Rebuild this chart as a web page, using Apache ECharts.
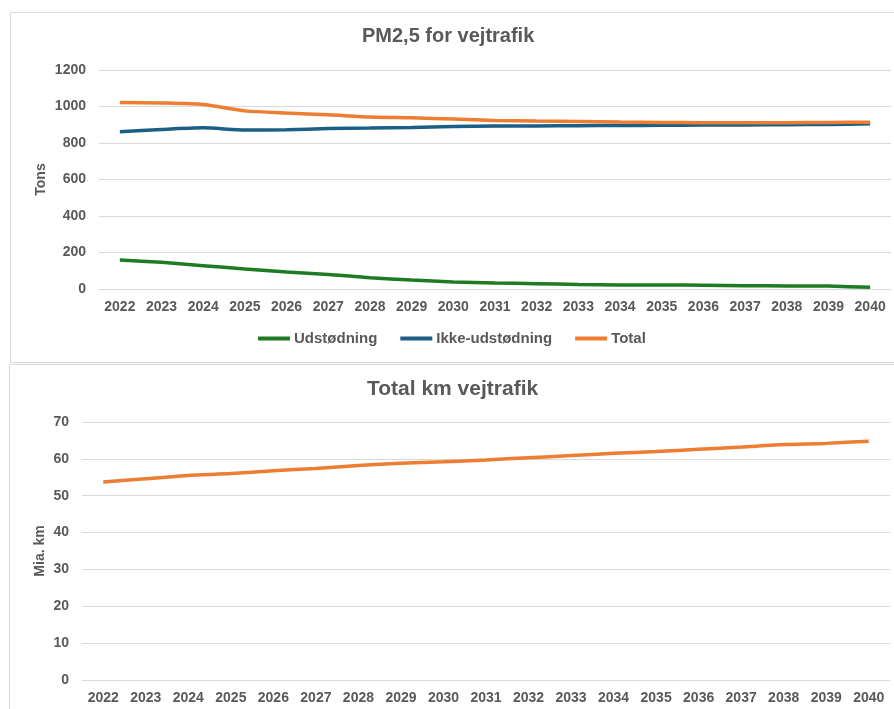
<!DOCTYPE html>
<html>
<head>
<meta charset="utf-8">
<script src="https://cdn.jsdelivr.net/npm/echarts@6/dist/echarts.min.js"></script>
<style>
  html, body { margin: 0; padding: 0; background: #fff; overflow: hidden; }
  #chart { width: 894px; height: 709px; }
</style>
</head>
<body>
<div id="chart"></div>
<script>
const years = ['2022', '2023', '2024', '2025', '2026', '2027', '2028', '2029', '2030', '2031', '2032', '2033', '2034', '2035', '2036', '2037', '2038', '2039', '2040']
// PM2,5 (tons)
const udstodning = [159, 146, 128, 110, 93, 80, 62, 49, 38, 33, 29, 25, 22, 22, 21, 18, 17, 16, 9]
const ikkeUdstodning = [861, 874, 883, 871, 872, 880, 882, 885, 890, 893, 893, 895, 896, 897, 898, 899, 900, 902, 905]
const total = [1022, 1019, 1011, 976, 964, 955, 942, 938, 931, 923, 920, 918, 915, 913, 911, 911, 911, 913, 914]
// total km (mia.)
const totalKm = [53.7, 54.6, 55.5, 56.0, 56.8, 57.4, 58.2, 58.8, 59.2, 59.7, 60.3, 60.9, 61.5, 62.0, 62.6, 63.2, 63.9, 64.2, 64.8]

const textColor = '#595959'
const gridColor = '#D9D9D9'
const font = 'Arial, "Liberation Sans", sans-serif'

const chart = echarts.init(document.getElementById('chart'))

const xAxisBase = {
  type: 'category',
  data: years,
  boundaryGap: true,
  axisLine: { lineStyle: { color: gridColor, width: 1 } },
  axisTick: { show: false },
  axisLabel: { color: textColor, fontSize: 14, fontWeight: 'bold', fontFamily: font, margin: 11, interval: 0 }
}
const yAxisBase = {
  type: 'value',
  axisLine: { show: false },
  axisTick: { show: false },
  splitLine: { lineStyle: { color: gridColor, width: 1 } },
  axisLabel: { color: textColor, fontSize: 14, fontWeight: 'bold', fontFamily: font, margin: 13, formatter: v => String(v) },
  nameLocation: 'middle',
  nameRotate: 90,
  nameMoveOverlap: false,
  nameTextStyle: { color: textColor, fontSize: 14, fontWeight: 'bold', fontFamily: font }
}

const option = {
  animation: false,
  graphic: [
    { type: 'rect', shape: { x: 10.5, y: 12.5, width: 900, height: 350 }, style: { fill: 'none', stroke: gridColor, lineWidth: 1 }, z: -1 },
    { type: 'rect', shape: { x: 9.5, y: 364.5, width: 900, height: 400 }, style: { fill: 'none', stroke: gridColor, lineWidth: 1 }, z: -1 }
  ],
  title: [
    { text: 'PM2,5 for vejtrafik', left: 362, top: 26, padding: 0, textStyle: { color: textColor, fontSize: 20, fontWeight: 'bold', fontFamily: font } },
    { text: 'Total km vejtrafik', left: 367, top: 379, padding: 0, textStyle: { color: textColor, fontSize: 21, fontWeight: 'bold', fontFamily: font } }
  ],
  legend: {
    left: 258,
    top: 331,
    padding: 0,
    itemWidth: 32,
    itemHeight: 4,
    itemGap: 23,
    icon: 'rect',
    textStyle: { color: textColor, fontSize: 15, fontWeight: 'bold', fontFamily: font, padding: [0, 0, 0, -1] },
    data: ['Udstødning', 'Ikke-udstødning', 'Total']
  },
  grid: [
    { left: 99, right: 3, top: 70, height: 219 },
    { left: 82, right: 4, top: 422, height: 258 }
  ],
  xAxis: [
    Object.assign({}, xAxisBase, { gridIndex: 0 }),
    Object.assign({}, xAxisBase, { gridIndex: 1 })
  ],
  yAxis: [
    Object.assign({}, yAxisBase, { gridIndex: 0, min: 0, max: 1200, interval: 200, name: 'Tons', nameGap: 51 }),
    Object.assign({}, yAxisBase, { gridIndex: 1, min: 0, max: 70, interval: 10, name: 'Mia. km', nameGap: 35 })
  ],
  series: [
    { name: 'Udstødning', type: 'line', xAxisIndex: 0, yAxisIndex: 0, data: udstodning, smooth: 0.2, showSymbol: false, lineStyle: { color: '#1E7B24', width: 3.5 }, itemStyle: { color: '#1E7B24' } },
    { name: 'Ikke-udstødning', type: 'line', xAxisIndex: 0, yAxisIndex: 0, data: ikkeUdstodning, smooth: 0.2, showSymbol: false, lineStyle: { color: '#1C5F86', width: 3.5 }, itemStyle: { color: '#1C5F86' } },
    { name: 'Total', type: 'line', xAxisIndex: 0, yAxisIndex: 0, data: total, smooth: 0.2, showSymbol: false, lineStyle: { color: '#ED7D31', width: 3.5 }, itemStyle: { color: '#ED7D31' } },
    { name: 'Total km', type: 'line', xAxisIndex: 1, yAxisIndex: 1, data: totalKm, smooth: 0.2, showSymbol: false, lineStyle: { color: '#ED7D31', width: 3.5 }, itemStyle: { color: '#ED7D31' } }
  ]
}

chart.setOption(option)
</script>
</body>
</html>
